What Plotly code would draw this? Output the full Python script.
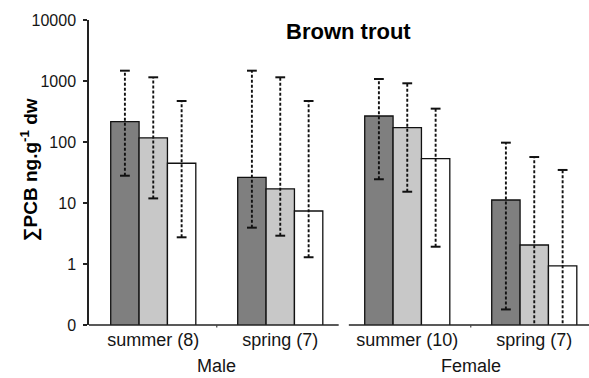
import plotly.graph_objects as go

# ---- data ----
seasons = ["summer (8)", "spring (7)", "summer (10)", "spring (7)"]
sexes = ["Male", "Female"]
series_names = ["dark", "light", "white"]

dark_vals  = [215, 26.4, 267, 11.2]
light_vals = [117, 17.1, 172, 2.05]
white_vals = [44.8, 7.4, 53.3, 0.93]

dark_max  = [1476, 1476, 1078, 97.5]
light_max = [1150, 1150, 917, 56.7]
white_max = [470, 470, 352, 34.8]

dark_min  = [28, 3.94, 24.5, 0.18]
light_min = [11.9, 2.91, 15.3, 0.05]
white_min = [2.74, 1.29, 1.92, 0.05]

y_tick_vals = [0.1, 1, 10, 100, 1000, 10000]
y_tick_text = ["0", "1", "10", "100", "1000", "10000"]

fills = ["#7f7f7f", "#c8c8c8", "#ffffff"]
TXT = "#151515"

pos = list(range(len(seasons)))
bargap = 0.33
bw = (1 - bargap) / 3
offsets = [-bw, 0, bw]

fig = go.Figure()
vals = [dark_vals, light_vals, white_vals]
mins = [dark_min, light_min, white_min]
maxs = [dark_max, light_max, white_max]

for i in range(3):
    fig.add_trace(go.Bar(
        x=pos, y=vals[i], name=series_names[i],
        marker=dict(color=fills[i], line=dict(color="#111", width=1.3)),
        showlegend=False, hoverinfo="skip"))

for i in range(3):
    xs, ys = [], []
    for p, lo, hi in zip(pos, mins[i], maxs[i]):
        xs += [p + offsets[i], p + offsets[i], None]
        ys += [lo, hi, None]
    fig.add_trace(go.Scatter(
        x=xs, y=ys, mode="lines+markers",
        line=dict(color="#111", width=1.9, dash="3px,2px"),
        marker=dict(symbol="line-ew", size=7, line=dict(color="#111", width=2)),
        showlegend=False, hoverinfo="skip"))

x0 = -0.506
x1 = x0 + 500 / 127
fig.update_layout(
    width=589, height=378,
    margin=dict(l=89, r=0, t=20, b=53),
    paper_bgcolor="white", plot_bgcolor="white",
    barmode="group", bargap=bargap, bargroupgap=0,
    font=dict(family="Liberation Sans, Arial, sans-serif", color=TXT),
    xaxis=dict(range=[x0, x1], tickvals=pos, ticktext=seasons,
               showline=False, ticks="", showgrid=False, zeroline=False,
               tickfont=dict(size=18, color=TXT), ticklabelstandoff=2),
    yaxis=dict(type="log", range=[-1, 4], tickvals=y_tick_vals, ticktext=y_tick_text,
               showline=True, linecolor="#222", linewidth=1.5,
               ticks="outside", ticklen=4, tickwidth=1.5, tickcolor="#222",
               showgrid=False, zeroline=False,
               tickfont=dict(size=16, color=TXT), ticklabelstandoff=4),
)

# x axis line split into Male / Female segments
gap = 0.04
mid = (pos[1] + pos[2]) / 2
for a, b in [(x0 - 0.025, mid - gap), (mid + gap, x1)]:
    fig.add_shape(type="line", xref="x", yref="paper", x0=a, x1=b, y0=0, y1=0,
                  line=dict(color="#222", width=1.5))
for m in [(pos[0] + pos[1]) / 2, (pos[2] + pos[3]) / 2]:
    fig.add_shape(type="line", xref="x", yref="paper", x0=m, x1=m, y0=0, y1=-0.008,
                  line=dict(color="#444", width=1.2))

for k, sx in enumerate(sexes):
    fig.add_annotation(x=(pos[2 * k] + pos[2 * k + 1]) / 2, xref="x", y=-0.134, yref="paper",
                       text=sx, showarrow=False, font=dict(size=18, color=TXT),
                       xanchor="center", yanchor="middle")

fig.add_annotation(x=(348 - 89) / 500, xref="paper", y=(325 - 31) / 305, yref="paper",
                   text="<b>Brown trout</b>", showarrow=False,
                   font=dict(size=22, color="#000"), xanchor="center", yanchor="middle")

fig.add_annotation(x=(29 - 89) / 500, xref="paper", y=(325 - 170) / 305, yref="paper",
                   text="<b>∑PCB ng.g<sup>-1</sup> dw</b>", showarrow=False, textangle=-90,
                   font=dict(size=19, color="#000"), xanchor="center", yanchor="middle")

fig.write_html("out.html", config={"displayModeBar": False},
               post_script="document.body.style.margin='0';")
